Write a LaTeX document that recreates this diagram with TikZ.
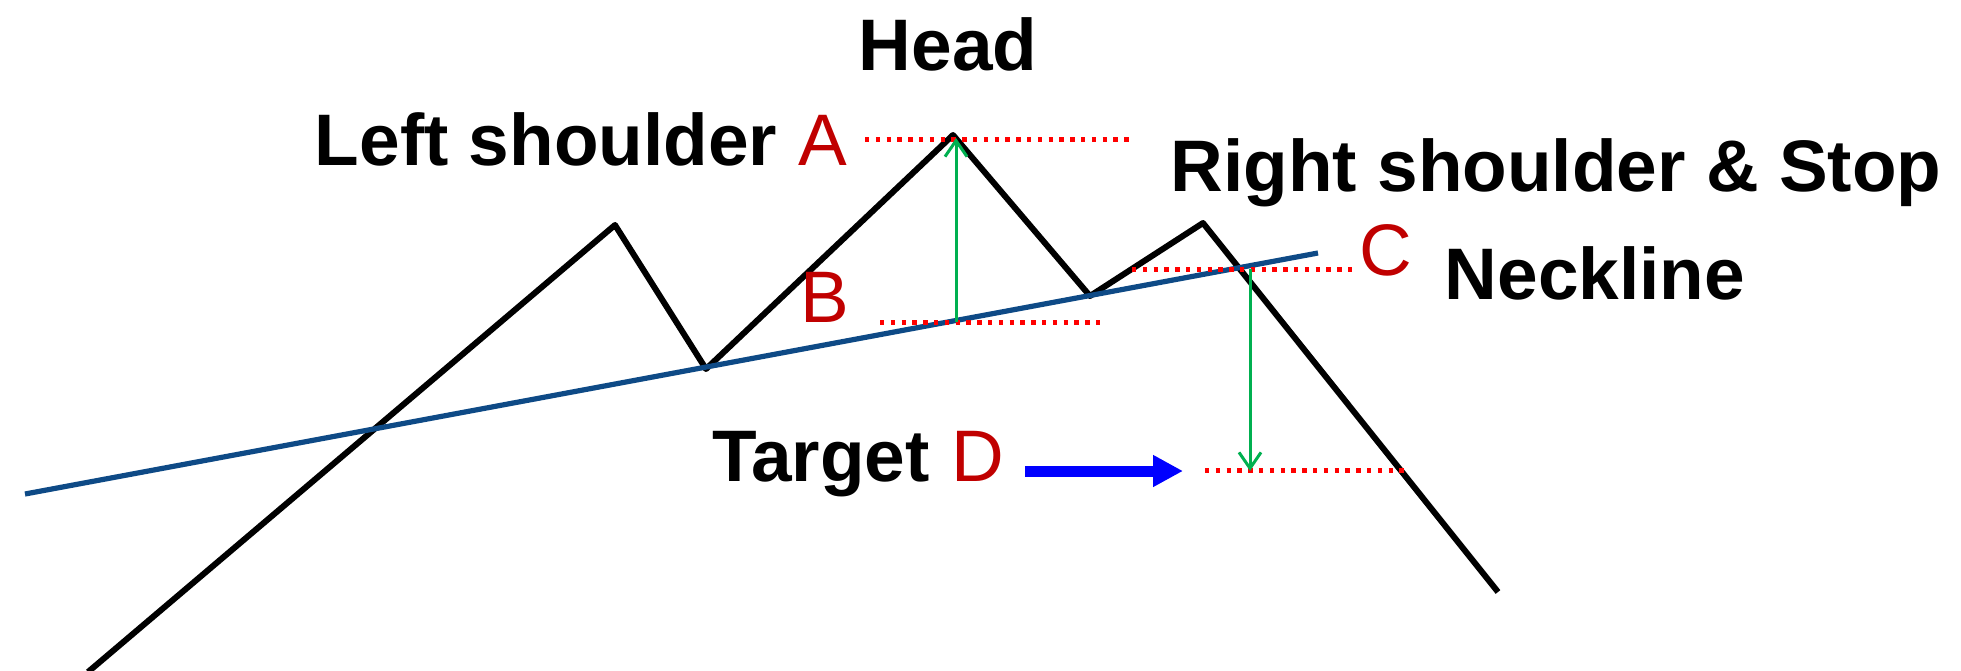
\documentclass[tikz,border=0pt]{standalone}
\usepackage{fontspec}
\setmainfont{Liberation Sans}
\usetikzlibrary{arrows.meta}
\definecolor{lblred}{HTML}{C00000}
\definecolor{neckblue}{HTML}{0E4A86}
\definecolor{arrgreen}{HTML}{00B050}
\tikzset{
  price/.style={line width=3pt, black, line join=round},
  neck/.style={line width=2.6pt, neckblue},
  level/.style={line width=2.5pt, red, dash pattern=on 2.2pt off 3.2pt},
  measure/.style={line width=1.5pt, arrgreen, -{Straight Barb[length=8pt,width=11pt]}},
  bigarrow/.style={line width=5.5pt, blue, -{Triangle[length=15pt,width=15pt]}},
  title/.style={font=\fontsize{36.5}{40}\selectfont\bfseries, inner sep=0pt, anchor=base},
  letter/.style={font=\fontsize{36.5}{40}\selectfont, text=lblred, inner sep=0pt, anchor=base},
}
\begin{document}
\begin{tikzpicture}[x=0.5pt,y=-0.5pt]
\useasboundingbox (0,0) rectangle (1961,670);
% price path points
\coordinate (p0) at (88,672);
\coordinate (ls) at (615,225);
\coordinate (t1) at (706,369);
\coordinate (hd) at (953,135);
\coordinate (t2) at (1090,296);
\coordinate (rs) at (1203,223);
\coordinate (p6) at (1498,592);
% neckline ends
\coordinate (n0) at (25,494);
\coordinate (n1) at (1318,253);
% levels
\coordinate (a0) at (865,139);  \coordinate (a1) at (1132,139);
\coordinate (b0) at (880,322);  \coordinate (b1) at (1102,322);
\coordinate (c0) at (1132,269); \coordinate (c1) at (1353,269);
\coordinate (d0) at (1205,470); \coordinate (d1) at (1407,470);
% measure arrows
\coordinate (m1s) at (956,322); \coordinate (m1e) at (956,138);
\coordinate (m2s) at (1250,269); \coordinate (m2e) at (1250,471);
% blue arrow
\coordinate (bas) at (1025,471); \coordinate (bae) at (1183,471);

\draw[price] (p0) -- (ls) -- (t1) -- (hd) -- (t2) -- (rs) -- (p6);
\draw[neck] (n0) -- (n1);
\draw[level] (a0) -- (a1);
\draw[level] (b0) -- (b1);
\draw[level] (c0) -- (c1);
\draw[level] (d0) -- (d1);
\draw[measure] (m1s) -- (m1e);
\draw[measure] (m2s) -- (m2e);
\draw[bigarrow] (bas) -- (bae);

\node[title] (head) at (948,70) {Head};
\node[title] (lsh) at (546,165) {Left shoulder};
\node[letter] (la) at (823,165) {A};
\node[title] (rsh) at (1556,191) {Right shoulder \& Stop};
\node[letter] (lc) at (1386,275) {C};
\node[title] (nk) at (1595,299) {Neckline};
\node[letter] (lb) at (825,322) {B};
\node[title] (tg) at (821,481) {Target};
\node[letter] (ld) at (978,481) {D};
\end{tikzpicture}
\end{document}
